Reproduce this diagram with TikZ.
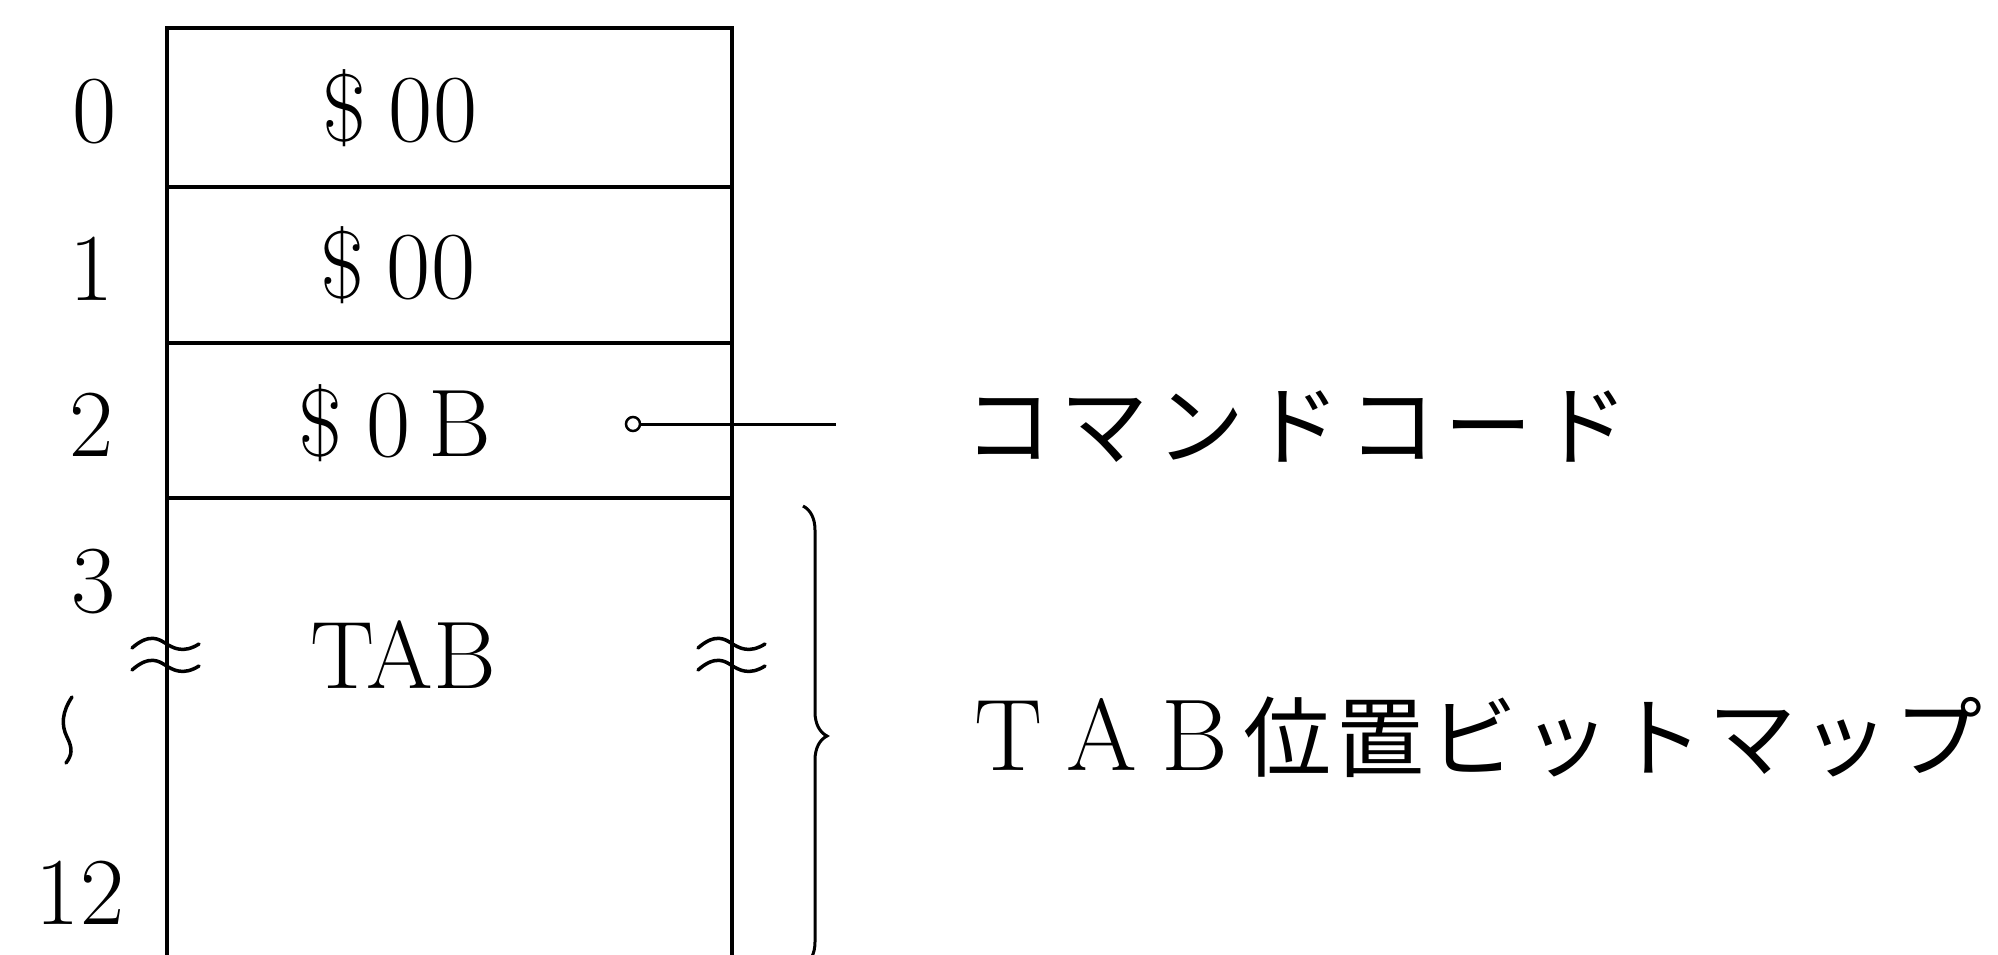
\documentclass[tikz,border=0pt]{standalone}
\usepackage{fontspec}
\newfontfamily\jpfont{Noto Sans CJK JP}
\usetikzlibrary{decorations.pathreplacing}
\newcommand\pa[1]{\makebox[96pt][c]{#1}}
\newcommand\pb[1]{\makebox[93pt][c]{#1}}
\newcommand\lt[1]{\pb{\fontsize{102}{110}\selectfont\rmfamily #1}}
\begin{document}
\begin{tikzpicture}[x=1pt,y=-1pt,
  cellbox/.style={draw, line width=3.5pt, rectangle, inner sep=0pt, outer sep=0pt, minimum width=565pt},
  big/.style={font=\fontsize{96}{110}\selectfont, inner sep=0pt, anchor=base},
  jp/.style={font=\fontsize{88}{96}\selectfont\jpfont, inner sep=0pt, anchor=base west},
  thin/.style={line width=3pt},
  wavy/.style={line width=3.5pt, line cap=round},
]
\useasboundingbox (0,0) rectangle (1998,955);
% cells
\node[cellbox, minimum height=159pt] (c0) at (449.5,107.5) {};
\node[cellbox, minimum height=156pt] (c1) at (449.5,265) {};
\node[cellbox, minimum height=155pt] (c2) at (449.5,420.5) {};
\node[cellbox, minimum height=477pt] (c3) at (449.5,736.5) {};
% cell texts
\node[big] (t0) at (400,142) {\$\hspace{22pt}00};
\node[big] (t1) at (398,298) {\$\hspace{22pt}00};
\node[big] (t2) at (395,456) {\$\hspace{24pt}0\hspace{18pt}B};
\node[big] (t3) at (403,688) {TAB};
% row numbers
\node[big] (n0) at (95,143) {0};
\node[big] (n1) at (92,300) {1};
\node[big] (n2) at (92,456) {2};
\node[big] (n3) at (94,612) {3};
\node[big] (n12) at (80,924) {12};
\draw[wavy] (72,697) .. controls (62,712) and (61,725) .. (67,737) .. controls (73,749) and (72,755) .. (66,763);
% break marks
\foreach \bx in {165,731} {
  \begin{scope}[shift={(\bx,0)}]
    \draw[wavy] (-33,648) .. controls (-15,632) and (-5,640) .. (0,643) .. controls (8,648) and (18,654) .. (34,644);
    \draw[wavy] (-33,670) .. controls (-15,654) and (-5,662) .. (0,665) .. controls (8,670) and (18,676) .. (34,666);
  \end{scope}
}
% command code pointer
\node[circle, draw, line width=2.5pt, minimum size=14pt, inner sep=0pt] (pin) at (633,424) {};
\coordinate (pinend) at (836,424);
\draw[thin] (pin) -- (pinend);
\node[jp] (lab1) at (960,458) {\pa{コ}\pa{マ}\pa{ン}\pa{ド}\pa{コ}\pa{ー}\pa{ド}};
% brace
\coordinate (brtop) at (803,506);
\coordinate (brbot) at (803,966);
\draw[thin, decorate, decoration={brace, amplitude=24pt}] (brtop) -- (brbot);
\node[jp] (lab2) at (962,770) {\lt{T}\lt{A}\lt{B}\pb{位}\pb{置}\pb{ビ}\pb{ッ}\pb{ト}\pb{マ}\pb{ッ}\pb{プ}};
\end{tikzpicture}
\end{document}
